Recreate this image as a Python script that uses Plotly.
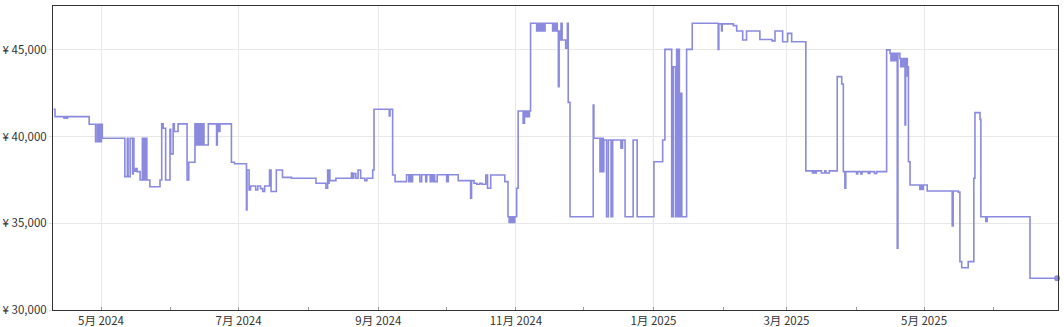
import plotly.graph_objects as go

# --- data: step price history (date, price in JPY) ---
dates = [
    "2024-04-10 00:00", "2024-04-10 14:00", "2024-04-14 14:00", "2024-04-15 00:00", "2024-04-15 18:00",
    "2024-04-16 04:00", "2024-04-25 18:00", "2024-04-28 14:00", "2024-04-29 08:00", "2024-04-29 20:00",
    "2024-04-30 10:00", "2024-04-30 22:00", "2024-05-01 05:00", "2024-05-01 14:00", "2024-05-11 14:00",
    "2024-05-12 16:00", "2024-05-13 00:00", "2024-05-13 22:00", "2024-05-15 00:00", "2024-05-15 08:00",
    "2024-05-15 14:00", "2024-05-16 08:00", "2024-05-17 00:00", "2024-05-18 08:00", "2024-05-19 08:00",
    "2024-05-20 00:00", "2024-05-20 16:00", "2024-05-21 08:00", "2024-05-22 16:00", "2024-05-27 04:00",
    "2024-05-27 22:00", "2024-05-28 14:00", "2024-05-29 16:00", "2024-05-31 14:00", "2024-05-31 22:00",
    "2024-06-02 00:00", "2024-06-02 12:00", "2024-06-04 04:00", "2024-06-08 04:00", "2024-06-08 22:00",
    "2024-06-11 16:00", "2024-06-12 06:00", "2024-06-12 18:00", "2024-06-13 06:00", "2024-06-13 14:00",
    "2024-06-14 00:00", "2024-06-14 10:00", "2024-06-14 20:00", "2024-06-15 08:00", "2024-06-15 16:00",
    "2024-06-17 14:00", "2024-06-21 06:00", "2024-06-21 14:00", "2024-06-22 06:00", "2024-06-22 18:00",
    "2024-06-27 20:00", "2024-06-29 04:00", "2024-07-04 12:00", "2024-07-04 18:00", "2024-07-05 16:00",
    "2024-07-06 08:00", "2024-07-08 14:00", "2024-07-09 12:00", "2024-07-10 18:00", "2024-07-11 18:00",
    "2024-07-12 14:00", "2024-07-14 18:00", "2024-07-15 10:00", "2024-07-17 18:00", "2024-07-20 12:00",
    "2024-07-24 12:00", "2024-08-04 08:00", "2024-08-08 18:00", "2024-08-09 12:00", "2024-08-09 18:00",
    "2024-08-10 04:00", "2024-08-10 12:00", "2024-08-13 04:00", "2024-08-20 02:00", "2024-08-20 16:00",
    "2024-08-21 02:00", "2024-08-22 00:00", "2024-08-23 00:00", "2024-08-24 04:00", "2024-08-26 00:00",
    "2024-08-26 22:00", "2024-08-29 12:00", "2024-08-30 02:00", "2024-09-05 20:00", "2024-09-06 04:00",
    "2024-09-07 08:00", "2024-09-08 10:00", "2024-09-13 12:00", "2024-09-14 12:00", "2024-09-15 00:00",
    "2024-09-15 12:00", "2024-09-16 04:00", "2024-09-19 10:00", "2024-09-20 05:00", "2024-09-22 00:00",
    "2024-09-22 10:00", "2024-09-24 00:00", "2024-09-24 12:00", "2024-09-25 00:00", "2024-09-25 12:00",
    "2024-09-26 00:00", "2024-09-27 02:00", "2024-10-01 07:00", "2024-10-02 00:00", "2024-10-06 10:00",
    "2024-10-11 22:00", "2024-10-12 08:00", "2024-10-13 10:00", "2024-10-14 16:00", "2024-10-16 00:00",
    "2024-10-16 22:00", "2024-10-18 16:00", "2024-10-19 10:00", "2024-10-20 20:00", "2024-10-27 02:00",
    "2024-10-28 12:00", "2024-10-29 00:00", "2024-10-29 12:00", "2024-10-30 00:00", "2024-10-30 12:00",
    "2024-10-31 00:00", "2024-10-31 12:00", "2024-11-01 08:00", "2024-11-02 00:00", "2024-11-04 05:00",
    "2024-11-04 19:00", "2024-11-05 12:00", "2024-11-06 00:00", "2024-11-06 12:00", "2024-11-07 00:00",
    "2024-11-07 12:00", "2024-11-10 05:00", "2024-11-10 17:00", "2024-11-11 05:00", "2024-11-11 17:00",
    "2024-11-12 05:00", "2024-11-12 17:00", "2024-11-13 05:00", "2024-11-13 22:00", "2024-11-17 07:00",
    "2024-11-17 20:00", "2024-11-18 08:00", "2024-11-18 20:00", "2024-11-19 08:00", "2024-11-19 20:00",
    "2024-11-20 04:00", "2024-11-20 12:00", "2024-11-21 00:00", "2024-11-21 12:00", "2024-11-23 02:00",
    "2024-11-23 20:00", "2024-11-24 05:00", "2024-11-25 00:00", "2024-12-05 07:00", "2024-12-05 14:00",
    "2024-12-08 07:00", "2024-12-08 16:00", "2024-12-09 02:00", "2024-12-09 10:00", "2024-12-09 18:00",
    "2024-12-10 00:00", "2024-12-11 05:00", "2024-12-12 00:00", "2024-12-13 05:00", "2024-12-13 22:00",
    "2024-12-17 14:00", "2024-12-18 07:00", "2024-12-19 10:00", "2024-12-23 00:00", "2024-12-24 19:00",
    "2025-01-01 05:00", "2025-01-05 02:00", "2025-01-06 02:00", "2025-01-09 02:00", "2025-01-09 19:00",
    "2025-01-10 19:00", "2025-01-11 07:00", "2025-01-11 22:00", "2025-01-12 05:00", "2025-01-12 12:00",
    "2025-01-12 17:00", "2025-01-13 00:00", "2025-01-13 07:00", "2025-01-13 14:00", "2025-01-15 17:00",
    "2025-01-18 05:00", "2025-01-29 17:00", "2025-01-30 00:00", "2025-01-31 05:00", "2025-01-31 12:00",
    "2025-02-05 10:00", "2025-02-06 22:00", "2025-02-09 14:00", "2025-02-11 07:00", "2025-02-17 05:00",
    "2025-02-22 14:00", "2025-02-23 22:00", "2025-02-27 07:00", "2025-03-01 12:00", "2025-03-03 07:00",
    "2025-03-09 14:00", "2025-03-12 12:00", "2025-03-13 00:00", "2025-03-13 12:00", "2025-03-14 05:00",
    "2025-03-16 12:00", "2025-03-18 00:00", "2025-03-18 12:00", "2025-03-20 00:00", "2025-03-23 12:00",
    "2025-03-25 12:00", "2025-03-26 05:00", "2025-03-26 22:00", "2025-03-27 07:00", "2025-04-01 02:00",
    "2025-04-01 14:00", "2025-04-03 00:00", "2025-04-03 12:00", "2025-04-06 07:00", "2025-04-07 00:00",
    "2025-04-09 00:00", "2025-04-10 00:00", "2025-04-14 10:00", "2025-04-15 22:00", "2025-04-16 08:00",
    "2025-04-16 18:00", "2025-04-17 04:00", "2025-04-17 14:00", "2025-04-18 00:00", "2025-04-18 10:00",
    "2025-04-18 20:00", "2025-04-19 03:00", "2025-04-19 10:00", "2025-04-20 07:00", "2025-04-20 16:00",
    "2025-04-21 02:00", "2025-04-21 12:00", "2025-04-21 22:00", "2025-04-22 14:00", "2025-04-22 20:00",
    "2025-04-23 06:00", "2025-04-23 14:00", "2025-04-23 20:00", "2025-04-24 02:00", "2025-04-24 19:00",
    "2025-04-29 04:00", "2025-04-29 16:00", "2025-04-30 04:00", "2025-04-30 16:00", "2025-05-02 10:00",
    "2025-05-13 12:00", "2025-05-13 22:00", "2025-05-16 05:00", "2025-05-16 22:00", "2025-05-17 17:00",
    "2025-05-20 14:00", "2025-05-23 02:00", "2025-05-23 14:00", "2025-05-25 20:00", "2025-05-26 05:00",
    "2025-05-28 10:00", "2025-05-29 00:00", "2025-06-17 00:00", "2025-06-29 00:00",
]

prices = [
    41580, 41150, 41060, 41150, 41060,
    41150, 40710, 39700, 40710, 39700,
    40710, 39700, 40710, 39900, 37690,
    39900, 37690, 39900, 37840, 39900,
    38000, 38150, 37980, 37500, 39900,
    37500, 39900, 37500, 37110, 37500,
    40730, 40480, 37500, 40420, 39000,
    40730, 40290, 40730, 37500, 38520,
    40730, 39515, 40730, 39515, 40730,
    39515, 40730, 39515, 40730, 39515,
    40730, 39515, 40730, 40290, 40730,
    38520, 38430, 35770, 38070, 36920,
    37150, 36920, 37150, 37000, 36830,
    37150, 38070, 36830, 38070, 37650,
    37600, 37310, 37020, 38070, 37310,
    38070, 37460, 37600, 37900, 37600,
    37870, 37600, 38070, 37600, 37460,
    37600, 38070, 41575, 41190, 41575,
    37785, 37400, 37800, 37400, 37800,
    37400, 37800, 37400, 37800, 37400,
    37800, 37400, 37800, 37400, 37800,
    37400, 37800, 37400, 37800, 37460,
    36440, 37460, 37310, 37250, 37310,
    37250, 37785, 37020, 37785, 37400,
    35380, 35050, 35380, 35050, 35380,
    35050, 35380, 37020, 41475, 40770,
    41475, 41150, 41475, 41150, 41475,
    46535, 46090, 46535, 46090, 46535,
    46090, 46535, 46090, 46535, 46090,
    46535, 46090, 46535, 46090, 42880,
    46090, 45570, 46535, 45570, 45090,
    46535, 41970, 35380, 41820, 39900,
    37980, 39900, 37980, 39900, 37980,
    39800, 35380, 39800, 35380, 39800,
    39330, 39800, 35380, 39800, 35380,
    38550, 39800, 45030, 35380, 44030,
    35380, 45030, 35380, 45030, 35380,
    42500, 35380, 42500, 35380, 45030,
    46535, 45030, 46500, 46090, 46500,
    46400, 46090, 45570, 46090, 45600,
    45520, 46090, 45470, 45950, 45470,
    38020, 37900, 38020, 37900, 38020,
    37900, 38020, 37900, 38020, 43455,
    43030, 37980, 37020, 37980, 37850,
    37980, 37850, 37980, 37880, 37980,
    37880, 37980, 45000, 44800, 44380,
    44800, 44380, 44800, 44380, 44800,
    44380, 33560, 44800, 44500, 44030,
    44500, 44030, 44500, 40670, 44030,
    44500, 43500, 44030, 38550, 37210,
    36950, 37210, 36950, 37210, 36860,
    34840, 36860, 36800, 32790, 32440,
    32790, 37600, 41380, 40990, 35380,
    35100, 35380, 31830, 31830,
]

# tick definitions
x_tick_vals = ["2024-05-01", "2024-07-01", "2024-09-01", "2024-11-01",
               "2025-01-01", "2025-03-01", "2025-05-01"]
x_tick_text = ["5月 2024", "7月 2024", "9月 2024", "11月 2024",
               "1月 2025", "3月 2025", "5月 2025"]
y_tick_vals = [30000, 35000, 40000, 45000]
y_tick_text = ["¥ 30,000", "¥ 35,000", "¥ 40,000", "¥ 45,000"]
x_range = ["2024-04-09 17:00", "2025-06-29 10:00"]
y_range = [30000, 47530]
year_boundary = "2025-01-01"

LINE_COLOR = "rgb(138,138,222)"
FONT = "Noto Sans CJK JP, Noto Sans, sans-serif"
TEXT_COLOR = "#333333"
FONT_SIZE = 11.5

fig = go.Figure()
fig.add_trace(go.Scatter(
    x=dates, y=prices, mode="lines",
    line=dict(shape="hv", color=LINE_COLOR, width=1.6),
    hoverinfo="skip", showlegend=False,
))
fig.add_trace(go.Scatter(
    x=[dates[-1]], y=[prices[-1]], mode="markers",
    marker=dict(color=LINE_COLOR, size=6),
    cliponaxis=False, hoverinfo="skip", showlegend=False,
))

fig.add_shape(type="line", xref="x", yref="paper",
              x0=year_boundary, x1=year_boundary, y0=0, y1=1,
              line=dict(color="#a0a0a0", width=1), layer="below")

fig.update_layout(
    width=1064, height=327,
    margin=dict(l=53, r=6, t=6, b=17, autoexpand=False),
    paper_bgcolor="white", plot_bgcolor="white",
    font=dict(family=FONT, size=FONT_SIZE, color=TEXT_COLOR),
    showlegend=False,
)
fig.update_xaxes(
    type="date", range=x_range,
    tickmode="array", tickvals=x_tick_vals, ticktext=x_tick_text,
    ticks="inside", ticklen=3, tickcolor="#999999",
    showgrid=True, gridcolor="#e8e8e8", gridwidth=1,
    showline=True, linecolor="#333333", linewidth=1, mirror=True,
    zeroline=False, automargin=False,
    minor=dict(dtick="M1", tick0="2024-04-01", ticks="inside", ticklen=3,
               tickcolor="#999999", showgrid=False),
    tickfont=dict(family=FONT, size=FONT_SIZE, color=TEXT_COLOR),
)
fig.update_yaxes(
    range=y_range, tickmode="array", tickvals=y_tick_vals, ticktext=y_tick_text,
    ticks="outside", ticklen=3, tickcolor="#dddddd",
    showgrid=True, gridcolor="#e8e8e8", gridwidth=1,
    showline=True, linecolor="#333333", linewidth=1, mirror=True,
    zeroline=False, automargin=False,
    tickfont=dict(family=FONT, size=FONT_SIZE, color=TEXT_COLOR),
)

fig.write_html("out.html", config={"displayModeBar": False})
